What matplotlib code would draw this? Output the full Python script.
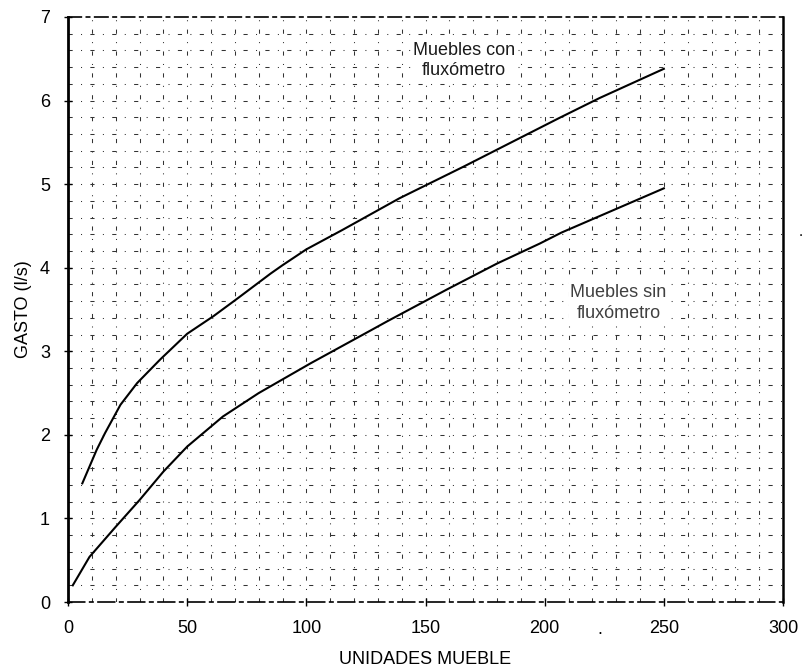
import numpy as np
import matplotlib
matplotlib.use("Agg")
import matplotlib.pyplot as plt

plt.rcParams['font.family'] = ['Liberation Sans', 'DejaVu Sans']

# Hunter curves: flow (l/s) versus fixture units
uf_con = [6, 12, 15.5, 22, 29, 38.6, 50, 61, 71, 85, 90, 100, 115, 139, 166, 206, 223, 250]
q_con = [1.42, 1.82, 2.02, 2.36, 2.62, 2.90, 3.21, 3.42, 3.63, 3.93, 4.03, 4.22, 4.45, 4.83, 5.21, 5.79, 6.03, 6.38]

uf_sin = [2, 9, 20, 30, 40, 50, 65, 80, 102, 127, 134, 159, 180, 198, 207, 250]
q_sin = [0.2, 0.54, 0.90, 1.22, 1.56, 1.86, 2.22, 2.50, 2.86, 3.25, 3.36, 3.74, 4.05, 4.29, 4.42, 4.95]

x_ticks = [0, 50, 100, 150, 200, 250, 300]
y_ticks = [0, 1, 2, 3, 4, 5, 6, 7]

fig = plt.figure(figsize=(8.05, 6.69), dpi=100)
ax = fig.add_axes([0.0845, 0.1001, 0.8882, 0.8745])
ax.set_xlim(0, 300)
ax.set_ylim(0, 7)

# broken background grid: every 10 units and every 0.2 l/s
grid_style = dict(color='0.2', lw=0.75, linestyle=(0, (4, 8, 1, 8)), zorder=1)
for gx in np.arange(10, 300, 10):
    ax.axvline(gx, **grid_style)
for gy in np.arange(0.2, 7.0, 0.2):
    ax.axhline(gy, **grid_style)

ax.plot(uf_con, q_con, color='black', lw=1.5, zorder=3)
ax.plot(uf_sin, q_sin, color='black', lw=1.5, zorder=3)

ax.text(166, 6.48, 'Muebles con\nfluxómetro', ha='center', va='center',
        fontsize=13, linespacing=1.3, color='0.1',
        bbox=dict(facecolor='white', edgecolor='none', pad=1), zorder=4)
ax.text(231, 3.58, 'Muebles sin\nfluxómetro', ha='center', va='center',
        fontsize=13, linespacing=1.3, color='0.25',
        bbox=dict(facecolor='white', edgecolor='none', pad=1), zorder=4)

ax.set_xticks(x_ticks)
ax.set_yticks(y_ticks)
ax.tick_params(direction='inout', length=6, width=1, labelsize=13, pad=10)
ax.set_xlabel('UNIDADES MUEBLE', fontsize=13, labelpad=10)
ax.set_ylabel('GASTO (l/s)', fontsize=13, labelpad=6)

ax.spines['left'].set_linewidth(2.0)
ax.spines['right'].set_linewidth(1.8)
ax.spines['top'].set_linewidth(1.2)
ax.spines['top'].set_linestyle((0, (8, 3, 2, 3)))
ax.spines['bottom'].set_linewidth(1.2)
ax.spines['bottom'].set_linestyle((0, (10, 3, 2, 3)))

fig.text(600 / 805, 1 - 630 / 669, '.', fontsize=13, ha='center', va='center')
fig.text(801 / 805, 1 - 232 / 669, '.', fontsize=11, ha='center', va='center')

fig.savefig('out.png', dpi=100)
